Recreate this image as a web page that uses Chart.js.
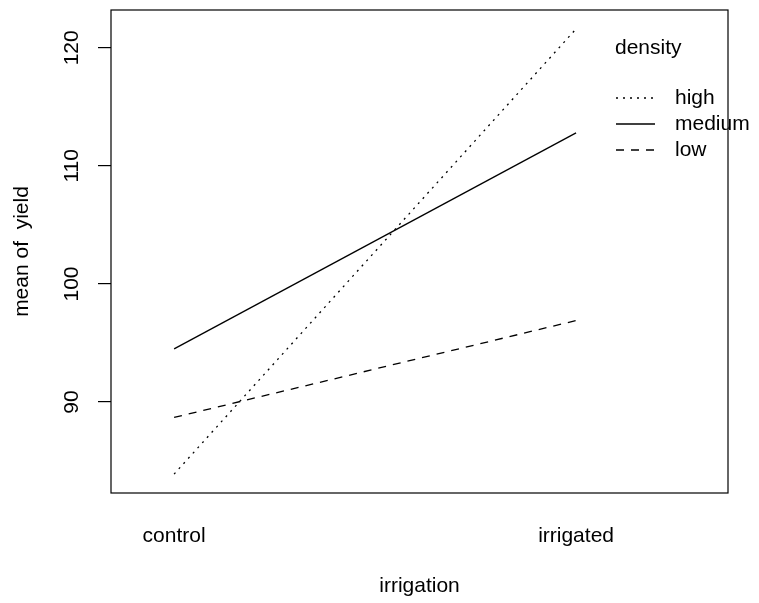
<!DOCTYPE html>
<html lang="en">
<head>
    <meta charset="UTF-8">
    <title>Interaction plot</title>
    <style>
        html, body { margin: 0; padding: 0; background: #ffffff; }
        #wrap { width: 759px; height: 603px; }
    </style>
</head>
<body>
    <div id="wrap"><canvas id="interactionChart" width="759" height="603"></canvas></div>

    <script src="https://cdn.jsdelivr.net/npm/chart.js"></script>
    <script>
        // irrigation levels (x) and mean yield per density level
        const irrigation = ['control', 'irrigated'];
        const densityLevels = ['high', 'medium', 'low'];
        const highYield = [83.9, 121.6];
        const mediumYield = [94.5, 112.8];
        const lowYield = [88.7, 96.9];
        const yTicks = [90, 100, 110, 120];

        const FONT = '"Liberation Sans", Arial, Helvetica, sans-serif';
        const dashes = { high: [2, 5], medium: [], low: [8, 7] };

        const toPoints = vals => vals.map((v, i) => ({ x: i + 1, y: v }));
        const datasets = [highYield, mediumYield, lowYield].map((vals, i) => ({
            label: densityLevels[i],
            data: toPoints(vals),
            borderColor: '#000',
            borderWidth: 1.3,
            borderDash: dashes[densityLevels[i]],
            pointRadius: 0,
            fill: false,
            tension: 0
        }));

        // box round the plot + R-style legend at top right
        const boxAndLegend = {
            id: 'boxAndLegend',
            afterDraw(chart) {
                const { ctx, chartArea: a } = chart;
                ctx.save();
                ctx.strokeStyle = '#000';
                ctx.lineWidth = 1.2;
                ctx.strokeRect(a.left, a.top, a.right - a.left, a.bottom - a.top);

                ctx.font = '21px ' + FONT;
                ctx.fillStyle = '#000';
                ctx.textBaseline = 'middle';
                ctx.textAlign = 'left';
                ctx.fillText('density', 615, 48);
                chart.data.datasets.forEach((ds, i) => {
                    const y = 98 + i * 26;
                    ctx.beginPath();
                    ctx.setLineDash(ds.borderDash);
                    ctx.lineWidth = 1.3;
                    ctx.moveTo(616, y);
                    ctx.lineTo(655, y);
                    ctx.stroke();
                    ctx.setLineDash([]);
                    ctx.fillText(ds.label, 675, y);
                });
                ctx.restore();
            }
        };

        new Chart(document.getElementById('interactionChart').getContext('2d'), {
            type: 'line',
            data: { datasets: datasets },
            options: {
                responsive: false,
                animation: false,
                layout: { padding: { top: 10, right: 31, left: 0, bottom: 0 } },
                plugins: { legend: { display: false }, tooltip: { enabled: false } },
                scales: {
                    x: {
                        type: 'linear',
                        min: 0.843,
                        max: 2.378,
                        afterBuildTicks: s => { s.ticks = irrigation.map((c, i) => ({ value: i + 1 })); },
                        afterFit: s => { s.height = 110; s.paddingLeft = 0; s.paddingRight = 0; },
                        grid: { display: false },
                        border: { display: false },
                        ticks: {
                            color: '#000',
                            font: { family: FONT, size: 21 },
                            padding: 23,
                            maxRotation: 0,
                            callback: v => irrigation[v - 1]
                        },
                        title: {
                            display: true,
                            text: 'irrigation',
                            color: '#000',
                            font: { family: FONT, size: 21 },
                            padding: { top: 10, bottom: 4 }
                        }
                    },
                    y: {
                        min: 82.3,
                        max: 123.2,
                        afterBuildTicks: s => { s.ticks = yTicks.map(v => ({ value: v })); },
                        afterFit: s => { s.width = 111; s.paddingTop = 0; s.paddingBottom = 0; },
                        grid: { drawOnChartArea: false, drawTicks: true, tickLength: 13, color: '#000', lineWidth: 1.2 },
                        border: { display: false },
                        ticks: {
                            color: '#000',
                            font: { family: FONT, size: 21 },
                            minRotation: 90,
                            maxRotation: 90,
                            crossAlign: 'center',
                            padding: 8
                        },
                        title: {
                            display: true,
                            text: 'mean of  yield',
                            color: '#000',
                            font: { family: FONT, size: 21 },
                            padding: { top: 10, bottom: 0 }
                        }
                    }
                }
            },
            plugins: [boxAndLegend]
        });
    </script>
</body>
</html>
